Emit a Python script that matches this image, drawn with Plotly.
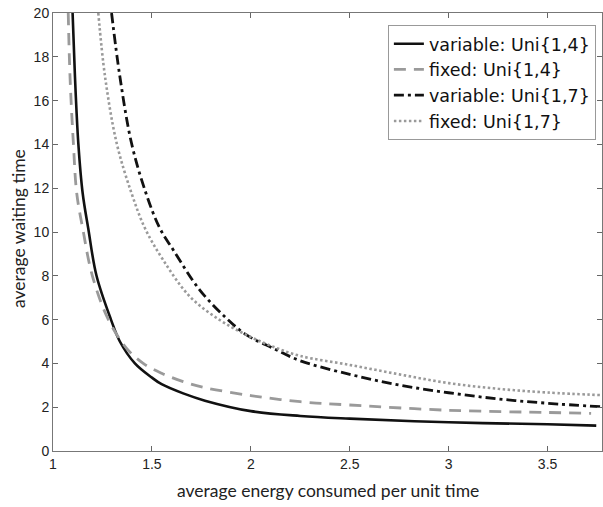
import plotly.graph_objects as go

# ---- data ----
var14_x = [1.099, 1.111, 1.128, 1.15, 1.178, 1.22, 1.293, 1.338, 1.414, 1.5, 1.549, 1.658, 1.768, 2.0, 2.25, 2.5, 3.0, 3.5, 3.746]
var14_y = [20, 17.1, 14.05, 11.77, 10.17, 8.0, 6.0, 5.0, 4.0, 3.35, 3.05, 2.63, 2.3, 1.82, 1.6, 1.48, 1.31, 1.22, 1.16]

fix14_x = [1.077, 1.086, 1.103, 1.12, 1.15, 1.199, 1.28, 1.372, 1.456, 1.549, 1.658, 1.759, 2.0, 2.25, 2.5, 3.0, 3.5, 3.72]
fix14_y = [20, 17.1, 14.05, 11.77, 10.17, 8.0, 6.0, 4.69, 4.0, 3.55, 3.17, 2.91, 2.53, 2.25, 2.1, 1.86, 1.76, 1.72]

var17_x = [1.296, 1.338, 1.397, 1.47, 1.54, 1.608, 1.742, 1.877, 1.978, 2.113, 2.25, 2.5, 2.75, 3.0, 3.25, 3.5, 3.775]
var17_y = [20, 17.1, 14.05, 11.77, 10.17, 9.18, 7.35, 6.06, 5.3, 4.69, 4.12, 3.5, 3.01, 2.66, 2.38, 2.18, 2.02]

fix17_x = [1.229, 1.263, 1.322, 1.397, 1.465, 1.557, 1.692, 1.843, 1.978, 2.113, 2.25, 2.5, 2.75, 3.0, 3.25, 3.5, 3.775]
fix17_y = [20, 17.1, 14.05, 11.77, 10.17, 8.72, 7.05, 5.98, 5.3, 4.76, 4.34, 3.93, 3.5, 3.1, 2.84, 2.67, 2.55]

series_names = ["variable: Uni{1,4}", "fixed: Uni{1,4}", "variable: Uni{1,7}", "fixed: Uni{1,7}"]

x_tickvals = [1, 1.5, 2, 2.5, 3, 3.5]
x_ticktext = ["1", "1.5", "2", "2.5", "3", "3.5"]
y_tickvals = [0, 2, 4, 6, 8, 10, 12, 14, 16, 18, 20]

x_title = "average energy consumed per unit time"
y_title = "average waiting time"

fig = go.Figure()

styles = [
    dict(color="#111111", width=2.6, dash="solid"),
    dict(color="#9a9a9a", width=2.8, dash="12px,8px"),
    dict(color="#111111", width=2.8, dash="10px,4px,3px,4px"),
    dict(color="#9a9a9a", width=2.6, dash="2.5px,2.5px"),
]
data = [(var14_x, var14_y), (fix14_x, fix14_y), (var17_x, var17_y), (fix17_x, fix17_y)]

for (xs, ys), name, st in zip(data, series_names, styles):
    fig.add_trace(go.Scatter(
        x=xs, y=ys, mode="lines", name=name,
        line=dict(color=st["color"], width=st["width"], dash=st["dash"],
                  shape="spline", smoothing=1.0),
    ))

axis_common = dict(
    showline=True, linecolor="#777777", linewidth=1, mirror="ticks",
    ticks="inside", ticklen=5, tickcolor="#666666", tickwidth=1,
    showgrid=False, zeroline=False, automargin=False,
    tickfont=dict(family="Liberation Sans, Arial, sans-serif", size=14, color="#222222"),
)

fig.update_xaxes(range=[1, 3.775], tickvals=x_tickvals, ticktext=x_ticktext, **axis_common)
fig.update_yaxes(range=[0, 20], tickvals=y_tickvals, **axis_common)

title_font = dict(family="Lato, sans-serif", size=17.5, color="#222222")
fig.add_annotation(text=x_title, xref="paper", yref="paper", x=0.5, y=0,
                   xanchor="center", yanchor="middle", yshift=-39,
                   showarrow=False, font=title_font)
fig.add_annotation(text=y_title, xref="paper", yref="paper", x=0, y=0.5,
                   xanchor="center", yanchor="middle", xshift=-35, yshift=3,
                   textangle=-90, showarrow=False, font=title_font)

fig.update_layout(
    width=603, height=507,
    margin=dict(l=53, r=1, t=13, b=56, autoexpand=False),
    paper_bgcolor="white", plot_bgcolor="white",
    showlegend=True,
    legend=dict(
        x=0.61, y=0.973, xanchor="left", yanchor="top",
        bgcolor="white", bordercolor="#999999", borderwidth=1,
        font=dict(family="DejaVu Sans, sans-serif", size=17.5, color="#111111"),
        itemwidth=30, tracegroupgap=0,
    ),
)

fig.write_html("out.html",
               config={"displayModeBar": False},
               post_script="document.body.style.margin='0';document.body.style.padding='0';")
